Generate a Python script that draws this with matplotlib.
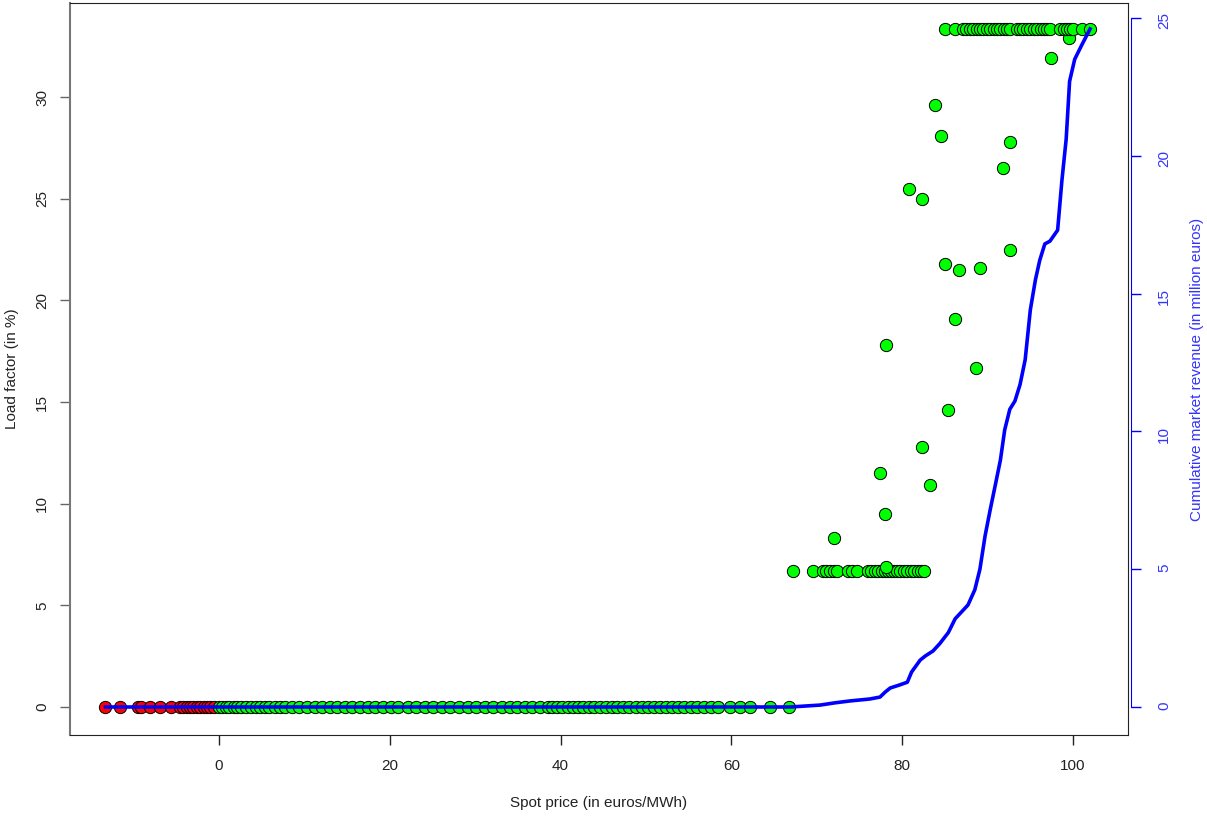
import numpy as np
import matplotlib.pyplot as plt

plt.rcParams['font.family'] = ['Liberation Sans', 'DejaVu Sans']

# spot prices (euros/MWh) with zero load factor
neg_prices = [-13.3, -11.6, -9.5, -9.1, -8.1, -6.9, -5.6, -4.6, -4.2, -3.8, -3.4,
              -3.0, -2.6, -2.2, -1.8, -1.4, -1.0, -0.6]
zero_prices = [0.0, 0.3, 0.8, 1.2, 1.7, 2.1, 2.6, 3.2, 3.7, 4.3, 4.8, 5.4, 5.9, 6.5,
               7.1, 7.7, 8.5, 9.4, 10.3, 11.2, 12.1, 13.0, 13.8, 14.7, 15.6, 16.5,
               17.4, 18.3, 19.2, 20.1, 21.0, 22.1, 23.1, 24.1, 25.1, 26.1, 27.1, 28.1,
               29.1, 30.1, 31.1, 32.1, 33.1, 34.1, 34.9, 35.8, 36.7, 37.6, 38.5, 39.0,
               39.6, 40.2, 40.9, 41.5, 42.0, 42.6, 43.3, 43.9, 44.6, 45.3, 46.0, 46.6,
               47.3, 48.0, 48.8, 49.5, 50.2, 50.9, 51.6, 52.3, 53.1, 53.8, 54.5, 55.3,
               56.0, 56.8, 57.6, 58.4, 59.8, 61.0, 62.2, 64.5, 66.7]

# load factor 6.67 %
low_prices = [67.2, 69.6, 70.7, 71.1, 71.5, 72.0, 72.4, 73.7, 74.1, 74.7, 76.0, 76.4,
              76.8, 77.2, 77.6, 78.0, 78.3, 78.7, 79.0, 79.4, 79.8, 80.2, 80.6, 81.0,
              81.4, 81.8, 82.2, 82.6]

# load factor 33.33 %
top_prices = [85.0, 86.2, 87.1, 87.5, 87.9, 88.3, 88.7, 89.1, 89.5, 89.9, 90.3, 90.7,
              91.1, 91.5, 91.9, 92.3, 92.6, 93.4, 93.8, 94.2, 94.6, 95.0, 95.4, 95.8,
              96.2, 96.6, 97.0, 97.3, 98.5, 98.9, 99.3, 99.7, 100.0, 101.0, 102.0]

# other hours
mid_prices = [72.0, 77.4, 78.0, 78.1, 78.1, 80.8, 82.3, 82.3, 83.2, 83.8, 84.6, 85.0,
              85.4, 86.2, 86.7, 88.6, 89.1, 91.8, 92.6, 92.6, 97.4, 99.5]
mid_load = [8.3, 11.5, 9.5, 17.8, 6.9, 25.5, 25.0, 12.8, 10.9, 29.6, 28.1, 21.8,
            14.6, 19.1, 21.5, 16.7, 21.6, 26.5, 27.8, 22.5, 31.9, 32.9]

# cumulative market revenue (million euros)
rev_price = [-13.3, 66.9, 70.4, 72.1, 73.9, 76.2, 77.4, 78.0, 78.6, 79.7, 80.6, 81.1,
             82.1, 82.7, 83.6, 84.4, 85.4, 86.2, 86.8, 87.7, 88.5, 89.1, 89.7, 90.3,
             90.9, 91.5, 92.0, 92.6, 93.2, 93.8, 94.4, 95.0, 95.6, 96.1, 96.7, 97.3,
             98.2, 98.7, 99.2, 99.6, 100.2, 101.0, 102.0]
rev_cum = [0.0, 0.0, 0.07, 0.15, 0.22, 0.29, 0.36, 0.54, 0.69, 0.8, 0.9, 1.27, 1.7,
           1.85, 2.03, 2.3, 2.7, 3.2, 3.4, 3.7, 4.25, 5.0, 6.2, 7.15, 8.05, 8.96, 10.05,
           10.8, 11.1, 11.7, 12.6, 14.4, 15.5, 16.2, 16.8, 16.9, 17.3, 19.1, 20.6, 22.7,
           23.5, 24.0, 24.6]

W, H = 1207, 817
fig = plt.figure(figsize=(W / 100, H / 100), dpi=100)
ax = fig.add_axes([70 / W, (H - 735) / H, (1128 - 70) / W, (735 - 3) / H])

mk = dict(s=78, edgecolors='black', linewidths=0.7, zorder=3)
ax.scatter(neg_prices, np.zeros(len(neg_prices)), c='#ff0000', **mk)
ax.scatter(zero_prices, np.zeros(len(zero_prices)), c='#00ff00', **mk)
ax.scatter(low_prices, np.full(len(low_prices), 100 / 15), c='#00ff00', **mk)
ax.scatter(mid_prices, mid_load, c='#00ff00', **mk)
ax.scatter(top_prices, np.full(len(top_prices), 100 / 3), c='#00ff00', **mk)

ax.set_xlim(-17.45, 106.44)
ax.set_ylim(-1.377, 34.63)
ax.set_xticks([0, 20, 40, 60, 80, 100])
ax.set_yticks([0, 5, 10, 15, 20, 25, 30])
ax.tick_params(axis='x', length=7, width=1, labelsize=11, pad=10, colors='#222222')
ax.tick_params(axis='y', length=7, width=1, labelsize=11, pad=8, colors='#666666',
               labelcolor='#222222', labelrotation=90)
for lab in ax.get_yticklabels():
    lab.set_va('center')
for s in ax.spines.values():
    s.set_color('#222222')
ax.spines['left'].set_color('#777777')
ax.spines['left'].set_linewidth(1.5)
ax.set_xlabel('Spot price (in euros/MWh)', fontsize=11, color='#222222')
ax.set_ylabel('Load factor (in %)', fontsize=11, color='#222222')
ax.xaxis.set_label_coords(0.5, -0.083)
ax.yaxis.set_label_coords(-0.048, 0.5)

ax2 = ax.twinx()
ax2.plot(rev_price, rev_cum, color='#0000ff', lw=2.6, zorder=4)
ax2.set_ylim(-1.016, 25.54)
ax2.set_yticks([0, 5, 10, 15, 20, 25])
ax2.tick_params(axis='y', length=7, width=1, labelsize=11, pad=12, colors='#0000ff',
                labelcolor='#3333ff', labelrotation=90)
for lab in ax2.get_yticklabels():
    lab.set_va('center')
ax2.spines['right'].set_color('#0000ff')
ax2.spines['right'].set_bounds(0, 25)
ax2.spines['right'].set_position(('outward', 2))
for k in ['top', 'left', 'bottom']:
    ax2.spines[k].set_visible(False)
ax2.set_ylabel('Cumulative market revenue (in million euros)', fontsize=11,
               color='#3333ff')
ax2.yaxis.set_label_coords(1.0586, 0.5)
ax.set_zorder(1)
ax.patch.set_visible(False)
ax2.set_zorder(2)

fig.savefig('out.png', dpi=100)
